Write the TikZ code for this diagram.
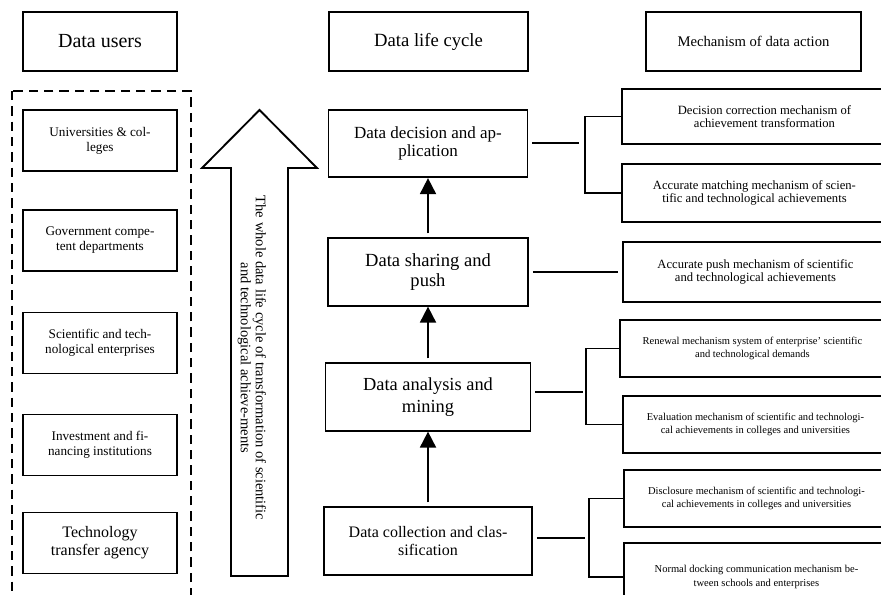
\documentclass[tikz,border=0pt]{standalone}
\usepackage{fontspec}
\setmainfont{Liberation Serif}
\usetikzlibrary{arrows.meta}

\begin{document}
\begin{tikzpicture}[x=0.75pt,y=0.75pt,yscale=-1,xscale=1,
  box/.style={draw,line width=1.4pt,align=center,inner sep=0pt},
  headbox/.style={box,minimum height=44.25pt},
  userbox/.style={box,minimum width=115.5pt,minimum height=45.75pt,font={\fontsize{9.9pt}{11.25pt}\selectfont}},
  stagebox/.style={box,minimum height=50.5pt},
  mechbox/.style={box,anchor=west,minimum width=198.75pt,minimum height=43pt,font={\fontsize{9.45pt}{9.9pt}\selectfont}},
  mechsmall/.style={mechbox,font={\fontsize{7.9pt}{9.9pt}\selectfont}},
  conn/.style={line width=1.4pt,shorten <=3pt},
  flow/.style={conn,-{Triangle[length=12pt,width=12pt]}}
]
\useasboundingbox (0,0) rectangle (881,594);

%Headers
\node [headbox,minimum width=115.5pt,font={\fontsize{15pt}{18pt}\selectfont}] (users) at (100,41.5) {Data users};
\node [headbox,minimum width=149.25pt,font={\fontsize{14pt}{16pt}\selectfont}] (cycle) at (428.5,41.5) {Data life cycle};
\node [headbox,minimum width=161.25pt,font={\fontsize{11pt}{13pt}\selectfont}] (mechanism) at (753.5,41.5) {Mechanism of data action};

%Shape: Dashed Rectangle
\draw [line width=1.6pt,dash pattern=on 7pt off 4.5pt] (12,91) rectangle (191,615);

%Data users
\node [userbox] (univ) at (100,140.5) {Universities \& col-\\leges};
\node [userbox] (gov) at (100,240.5) {Government compe-\\tent departments};
\node [userbox] (enterprise) at (100,343) {Scientific and tech-\\nological enterprises};
\node [userbox] (invest) at (100,445) {Investment and fi-\\nancing institutions};
\node [userbox,font={\fontsize{12pt}{13.5pt}\selectfont}] (agency) at (100,543) {Technology\\transfer agency};

%Shape: Up Arrow
\draw [line width=1.4pt] (231,576) -- (231,168) -- (202,168) -- (259.5,110) -- (317,168) -- (288,168) -- (288,576) -- cycle ;
\node [rotate=-90,align=center,font={\fontsize{10.9pt}{11.25pt}\selectfont}] (whole) at (252,358) {The whole data life cycle of transformation of scientific\\and technological achieve-ments};

%Data life cycle
\node [stagebox,minimum width=149.25pt,font={\fontsize{12.75pt}{13pt}\selectfont}] (decision) at (428,143.5) {Data decision and ap-\\plication};
\node [stagebox,minimum width=150pt,font={\fontsize{13.9pt}{15pt}\selectfont}] (sharing) at (428,272) {Data sharing and\\push};
\node [stagebox,minimum width=153.75pt,font={\fontsize{13.8pt}{16pt}\selectfont}] (analysis) at (428,397) {Data analysis and\\mining};
\node [stagebox,minimum width=156pt,font={\fontsize{12pt}{13pt}\selectfont}] (collection) at (428,541) {Data collection and clas-\\sification};

\draw [flow] (collection) -- (analysis);
\draw [flow] (analysis) -- (sharing);
\draw [flow] (sharing) -- (decision);

%Mechanism of data action
\node [mechbox,minimum width=213.75pt,minimum height=41.25pt] (correction) at (621,116.5) {Decision correction mechanism of\\achievement transformation};
\node [mechbox,minimum height=43.5pt] (matching) at (621,193) {Accurate matching mechanism of scien-\\tific and technological achievements};
\node [mechbox,minimum height=45pt] (push) at (622,272) {Accurate push mechanism of scientific\\and technological achievements};
\node [mechsmall,minimum height=42.75pt] (renewal) at (619,348.5) {Renewal mechanism system of enterprise’ scientific\\and technological demands};
\node [mechsmall,minimum height=42.75pt] (evaluation) at (622,424.5) {Evaluation mechanism of scientific and technologi-\\cal achievements in colleges and universities};
\node [mechsmall,minimum height=42.75pt] (disclosure) at (623,498.5) {Disclosure mechanism of scientific and technologi-\\cal achievements in colleges and universities};
\node [mechsmall,minimum height=51pt] (docking) at (623,577) {Normal docking communication mechanism be-\\tween schools and enterprises};

%Straight Lines
\coordinate (b1) at (585,143);
\draw [conn,shorten >=4.5pt] (decision.east |- b1) -- (b1);
\draw [line width=1.4pt] (correction.west) -| (b1) |- (matching.west);

\draw [conn,shorten >=3pt] (sharing) -- (push);

\coordinate (b2) at (586,392);
\draw [conn,shorten >=2.5pt] (analysis.east |- b2) -- (b2);
\draw [line width=1.4pt] (renewal.west) -| (b2) |- (evaluation.west);

\coordinate (b3) at (589,538);
\draw [conn,shorten >=3pt] (collection.east |- b3) -- (b3);
\draw [line width=1.4pt] (disclosure.west) -| (b3) |- (docking.west);

\end{tikzpicture}
\end{document}
